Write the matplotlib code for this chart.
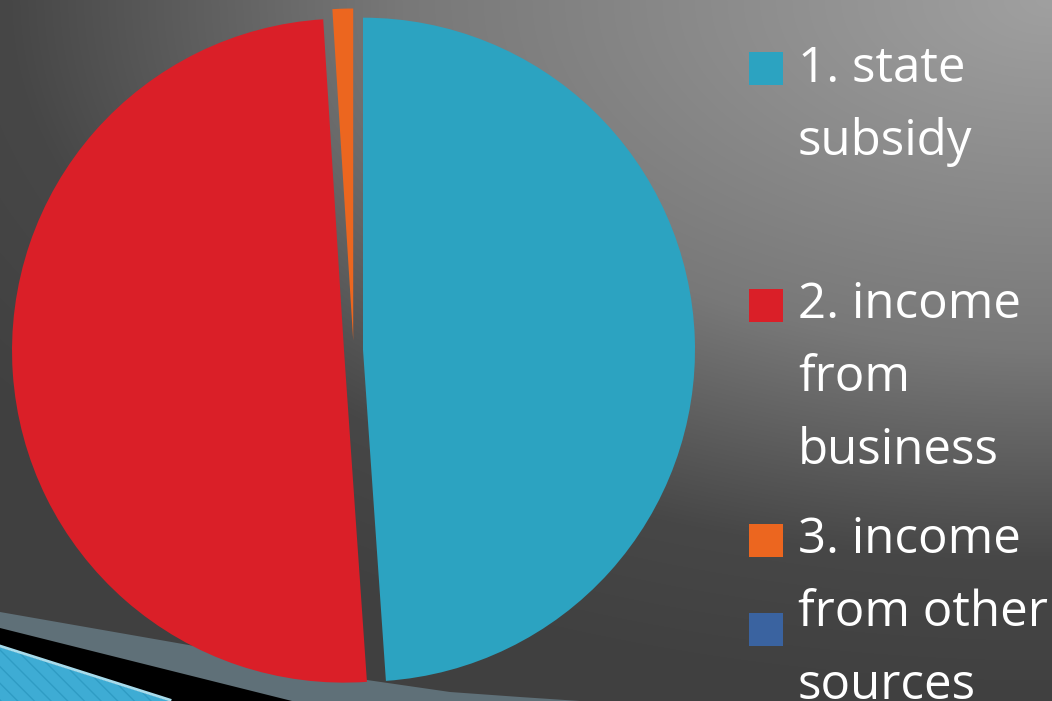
import textwrap
import numpy as np
import matplotlib.pyplot as plt
from matplotlib.patches import Polygon, Rectangle

labels = ["1. state subsidy", "2. income from business", "3. income from other sources", ""]
values = [48.9, 50.1, 1.0, 0.0]
colors = ["#2ca3c1", "#da1f28", "#ec661f", "#3a63a0"]

W, H = 1052, 701
fig = plt.figure(figsize=(W / 100, H / 100), dpi=100)
ax = fig.add_axes([0, 0, 1, 1])

# grey background, light in the top right corner
yy, xx = np.mgrid[0:H, 0:W]
r = np.sqrt(((xx - W) / 1300.0) ** 2 + (yy / 700.0) ** 2)
v = np.interp(r, [0, 0.5, 0.8, 1.0], [0xa0, 0x78, 0x47, 0x40]) / 255
ax.imshow(np.dstack([v, v, v]), extent=[0, W, 0, H], origin='upper', zorder=0, aspect='auto')

# theme swoosh in the bottom left
def px(pts):
    return [(x, H - y) for x, y in pts]

ax.add_patch(Polygon(px([(0, 612), (200, 647), (367, 680), (450, 692), (520, 697),
                         (580, 701), (0, 701)]), closed=True, fc='#5f7078', ec='none', zorder=1))
ax.add_patch(Polygon(px([(0, 628), (292, 701), (0, 701)]), closed=True, fc='black', ec='none', zorder=1))
ax.add_patch(Polygon(px([(0, 647), (170, 701), (0, 701)]), closed=True, fc='#3eacd4',
                     ec='#2f9cc4', hatch='\\\\', lw=0, zorder=1))
ax.plot([0, 170], [H - 646, H - 700], color='#a8dcec', lw=2, zorder=2)

# pie
ax.pie(values, colors=colors, startangle=90, counterclock=False,
       explode=[9.5] * len(values), radius=332, center=(353.5, H - 350),
       wedgeprops=dict(linewidth=0, zorder=3))

# legend drawn by hand, label text wraps like in PowerPoint
marker_y = [68, 305, 540, 629]
first_base = [82, 318, 553, None]
for lab, col, my, fb in zip(labels, colors, marker_y, first_base):
    ax.add_patch(Rectangle((749, H - my - 16.5), 34, 33, fc=col, ec='none', zorder=4))
    if fb is None:
        continue
    for i, line in enumerate(textwrap.wrap(lab, width=10)):
        ax.text(798, H - (fb + i * 73), line, color='white', fontsize=35.5,
                family=['Open Sans', 'DejaVu Sans'], va='baseline', ha='left', zorder=5)

ax.set_xlim(0, W)
ax.set_ylim(0, H)
ax.set_aspect('auto')
ax.axis('off')

plt.savefig("out.png", dpi=100)
